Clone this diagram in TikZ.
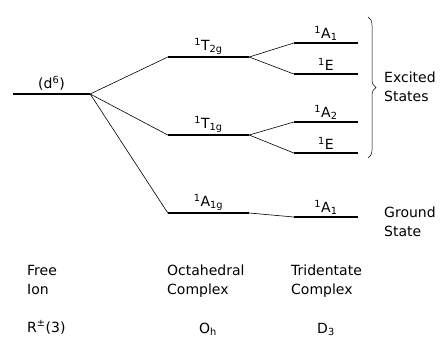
\documentclass[tikz,border=0pt]{standalone}
\usepackage{fontspec}
\setmainfont{DejaVu Sans}
\usetikzlibrary{positioning,decorations.pathreplacing}
\newcommand{\term}[3]{\textsuperscript{#1}#2\textsubscript{#3}}

\begin{document}
\begin{tikzpicture}[x=1pt,y=-1pt,
    lvl/.style={fill=black,inner sep=0pt,minimum height=2.6pt,minimum width=#1},
    lvl/.default=64pt,
    lbl/.style={inner sep=0.5pt,font=\fontsize{14}{19}\selectfont},
    txt/.style={inner sep=0pt,align=left,anchor=west,font=\fontsize{14}{19}\selectfont},
    conn/.style={line width=0.6pt}]
    \useasboundingbox (0,0) rectangle (442,349);
    % levels
    \node[lvl=77pt] (free) at (51.5,94) {};
    \node[lvl=81pt] (t2g) at (208.5,57) {};
    \node[lvl=81pt] (t1g) at (208.5,135) {};
    \node[lvl=81pt] (a1g) at (208.5,213) {};
    \node[lvl] (a1) at (326,43) {};
    \node[lvl] (e1) at (326,74) {};
    \node[lvl] (a2) at (326,122) {};
    \node[lvl] (e2) at (326,153) {};
    \node[lvl] (a1gr) at (326,217) {};
    % level labels
    \node[lbl,above=1pt of free] (dsix) {(d\textsuperscript{6})};
    \node[lbl,above=0pt of t2g] (lt2g) {\term{1}{T}{2g}};
    \node[lbl,above=0pt of t1g] (lt1g) {\term{1}{T}{1g}};
    \node[lbl,above=0pt of a1g] (la1g) {\term{1}{A}{1g}};
    \node[lbl,above=0pt of a1] (la1) {\term{1}{A}{1}};
    \node[lbl,above=1pt of e1] (le1) {\textsuperscript{1}E};
    \node[lbl,above=0pt of a2] (la2) {\term{1}{A}{2}};
    \node[lbl,above=1pt of e2] (le2) {\textsuperscript{1}E};
    \node[lbl,above=0pt of a1gr] (la1gr) {\term{1}{A}{1}};
    % correlation lines
    \draw[conn] (free.east) -- (t2g.west);
    \draw[conn] (free.east) -- (t1g.west);
    \draw[conn] (free.east) -- (a1g.west);
    \draw[conn] (t2g.east) -- (a1.west);
    \draw[conn] (t2g.east) -- (e1.west);
    \draw[conn] (t1g.east) -- (a2.west);
    \draw[conn] (t1g.east) -- (e2.west);
    \draw[conn] (a1g.east) -- (a1gr.west);
    % brace and state names
    \coordinate (btop) at (368,17);
    \coordinate (bbot) at (368,158);
    \draw[line width=0.5pt,decorate,decoration={brace,amplitude=8pt}] (btop) -- (bbot);
    \node[txt] (exc) at (384,87) {Excited\\States};
    \node[txt] (gnd) at (384,222) {Ground\\State};
    % bottom captions
    \node[txt] (ion) at (27,280) {Free\\Ion};
    \node[txt] (oct) at (167,281) {Octahedral\\Complex};
    \node[txt] (tri) at (291,281) {Tridentate\\Complex};
    \node[lbl,anchor=base west,inner sep=0pt] (rthree) at (27,332) {R\textsuperscript{±}(3)};
    \node[lbl,anchor=base] (oh) at (208,333) {O\textsubscript{h}};
    \node[lbl,anchor=base] (dthree) at (326,333) {D\textsubscript{3}};
\end{tikzpicture}
\end{document}
